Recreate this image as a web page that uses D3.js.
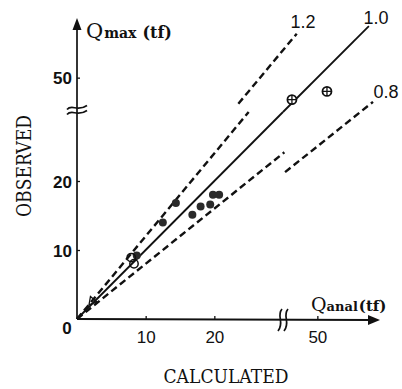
<!DOCTYPE html>
<html>
<head>
<meta charset="utf-8">
<script src="https://cdn.jsdelivr.net/npm/d3@7"></script>
<style>
  html, body { margin: 0; padding: 0; background: #fff; }
  svg { display: block; }
</style>
</head>
<body>
<script>
// values (tf), axis broken between 30 and 45
const xTicks = [10, 20, 50];
const yTicks = [10, 20, 50];
const filledPts = [[12.5, 14.0], [14.4, 16.8], [16.8, 15.1], [18.0, 16.3], [19.4, 16.6], [19.8, 18.0], [20.7, 18.0], [8.7, 9.2]];
const openPts = [[7.9, 8.9], [8.3, 8.0]];
const crossPts = [[46.3, 46.8], [51.4, 48.0]];
const trianglePts = [[2.2, 2.6]];
const ratioNames = ['1.2', '1.0', '0.8'];
const ratioSlopes = [1.2, 1.0, 0.8];
const lowerSpans = [[0, 25], [0, 30], [0, 30.2]];
const upperSpans = [[38.5, 47], [45, 57.5], [45.3, 58.1]];

const width = 402, height = 389;
const unit = 6.87;
const x0 = 77, y0 = 319, xb = 283, yb = 112;

// lower and upper pieces of the broken scales
const xLo = d3.scaleLinear().domain([0, 30]).range([x0, xb]);
const xHi = d3.scaleLinear().domain([45, 60]).range([xb, xb + 15 * unit]);
const yLo = d3.scaleLinear().domain([0, 30]).range([y0, yb]);
const yHi = d3.scaleLinear().domain([45, 60]).range([yb, yb - 15 * unit]);
const xs = v => v <= 30 ? xLo(v) : xHi(v);
const ys = v => v <= 30 ? yLo(v) : yHi(v);

const svg = d3.select('body').append('svg')
  .attr('width', width)
  .attr('height', height);

const ink = '#111';

// axes ticks + labels
const xAxis = d3.axisBottom(d3.scaleLinear().domain([0, 30, 45, 60]).range([x0, xb, xb, xb + 15 * unit]))
  .tickValues(xTicks).tickSize(-3).tickPadding(6);
const gx = svg.append('g').attr('transform', `translate(0,${y0})`).call(xAxis);
gx.select('.domain').remove();
gx.selectAll('text')
  .attr('font-family', 'Liberation Sans, Arial, sans-serif')
  .attr('font-size', 17).attr('fill', ink)
  .attr('dy', '1.05em');

const yAxis = d3.axisLeft(d3.scaleLinear().domain([0, 30, 45, 60]).range([y0, yb, yb, yb - 15 * unit]))
  .tickValues(yTicks).tickSize(-3).tickPadding(5);
const gy = svg.append('g').attr('transform', `translate(${x0},0)`).call(yAxis);
gy.select('.domain').remove();
gy.selectAll('text')
  .attr('font-family', 'Liberation Sans, Arial, sans-serif')
  .attr('font-size', 17).attr('font-weight', 'bold').attr('fill', ink)
  .attr('dy', '0.36em');
svg.selectAll('.tick line').attr('stroke', ink).attr('stroke-width', 1.3);

svg.append('text')
  .attr('x', 67).attr('y', 334)
  .attr('text-anchor', 'middle')
  .attr('font-family', 'Liberation Sans, Arial, sans-serif')
  .attr('font-size', 17).attr('font-weight', 'bold').attr('fill', ink)
  .text('0');

// axis lines with arrow heads
svg.append('line').attr('x1', x0).attr('y1', y0).attr('x2', x0).attr('y2', 26)
  .attr('stroke', ink).attr('stroke-width', 1.7);
svg.append('path').attr('d', `M${x0},18 L${x0 - 4.5},30 L${x0 + 4.5},30 Z`).attr('fill', ink);
svg.append('line').attr('x1', x0).attr('y1', y0).attr('x2', 372).attr('y2', y0 + 1)
  .attr('stroke', ink).attr('stroke-width', 2);
svg.append('path').attr('d', `M380,${y0 + 1} L368,${y0 - 4} L368,${y0 + 6} Z`).attr('fill', ink);

// break marks
const yBreak = svg.append('g').attr('transform', `translate(${x0},${yb - 2})`);
[-2.5, 2.5].forEach(dy => {
  yBreak.append('path')
    .attr('d', `M-10,${dy + 2} C-5,${dy - 4} 0,${dy + 5} 10,${dy - 2}`)
    .attr('fill', 'none').attr('stroke', ink).attr('stroke-width', 1.7);
});
const xBreak = svg.append('g').attr('transform', `translate(${xb},${y0 + 1})`);
[-3, 3].forEach(dx => {
  xBreak.append('path')
    .attr('d', `M${dx + 2},-11 C${dx - 4},-4 ${dx + 5},2 ${dx - 2},11`)
    .attr('fill', 'none').attr('stroke', ink).attr('stroke-width', 1.7);
});

// ratio lines, each drawn in two pieces across the breaks
const lineGen = (sx, sy, k) => span => d3.line()
  .x(v => sx(v)).y(v => sy(k * v))([span[0], span[1]]);

ratioSlopes.forEach((k, i) => {
  const dashed = ratioNames[i] !== '1.0';
  const pieces = [lineGen(xLo, yLo, k)(lowerSpans[i]), lineGen(xHi, yHi, k)(upperSpans[i])];
  pieces.forEach(d => {
    svg.append('path')
      .attr('d', d)
      .attr('fill', 'none')
      .attr('stroke', ink)
      .attr('stroke-width', dashed ? 2.4 : 1.8)
      .attr('stroke-dasharray', dashed ? '7,4' : null);
  });
});

// ratio labels
const ratioLabelPos = [[303, 28], [376, 24], [386, 98]];
ratioNames.forEach((t, i) => {
  svg.append('text')
    .attr('x', ratioLabelPos[i][0]).attr('y', ratioLabelPos[i][1])
    .attr('text-anchor', 'middle')
    .attr('font-family', 'Liberation Sans, Arial, sans-serif')
    .attr('font-size', 18).attr('fill', ink)
    .text(t);
});

// points
svg.append('g').selectAll('circle.f')
  .data(filledPts).enter().append('circle')
  .attr('cx', d => xs(d[0])).attr('cy', d => ys(d[1]))
  .attr('r', 4).attr('fill', '#2a2a2a');

svg.append('g').selectAll('circle.o')
  .data(openPts).enter().append('circle')
  .attr('cx', d => xs(d[0])).attr('cy', d => ys(d[1]))
  .attr('r', 4.2).attr('fill', 'none').attr('stroke', ink).attr('stroke-width', 1.5);

const cross = svg.append('g').selectAll('g')
  .data(crossPts).enter().append('g')
  .attr('transform', d => `translate(${xs(d[0])},${ys(d[1])})`);
cross.append('circle').attr('r', 4.5).attr('fill', '#fff').attr('stroke', ink).attr('stroke-width', 1.8);
cross.append('path').attr('d', 'M-4.5,0 H4.5 M0,-4.5 V4.5').attr('stroke', ink).attr('stroke-width', 1.3);

svg.append('g').selectAll('path')
  .data(trianglePts).enter().append('path')
  .attr('d', d3.symbol().type(d3.symbolTriangle).size(30))
  .attr('transform', d => `translate(${xs(d[0])},${ys(d[1])}) rotate(-20)`)
  .attr('fill', 'none').attr('stroke', ink).attr('stroke-width', 1.3);

// axis titles
const qy = svg.append('text').attr('x', 86).attr('y', 38)
  .attr('font-family', 'DejaVu Serif, serif').attr('fill', ink);
qy.append('tspan').attr('font-size', 21).text('Q');
qy.append('tspan').attr('font-size', 14).attr('font-weight', 'bold').attr('dx', 1).text('max');
qy.append('tspan').attr('font-size', 16).attr('font-weight', 'bold').attr('dx', 6).text('(tf)');

const qx = svg.append('text').attr('x', 311).attr('y', 311)
  .attr('font-family', 'DejaVu Serif, serif').attr('fill', ink);
qx.append('tspan').attr('font-size', 19).text('Q');
qx.append('tspan').attr('font-size', 13).attr('font-weight', 'bold').text('anal');
qx.append('tspan').attr('font-size', 15).attr('font-weight', 'bold').attr('dx', 1).text('(tf)');

svg.append('text')
  .attr('x', 226).attr('y', 383)
  .attr('text-anchor', 'middle')
  .attr('font-family', 'DejaVu Serif, serif')
  .attr('font-size', 18).attr('fill', ink)
  .attr('textLength', 125).attr('lengthAdjust', 'spacingAndGlyphs')
  .text('CALCULATED');

svg.append('text')
  .attr('transform', 'translate(31,166) rotate(-90)')
  .attr('text-anchor', 'middle')
  .attr('font-family', 'DejaVu Serif, serif')
  .attr('font-size', 20).attr('fill', ink)
  .attr('textLength', 102).attr('lengthAdjust', 'spacingAndGlyphs')
  .text('OBSERVED');
</script>
</body>
</html>
